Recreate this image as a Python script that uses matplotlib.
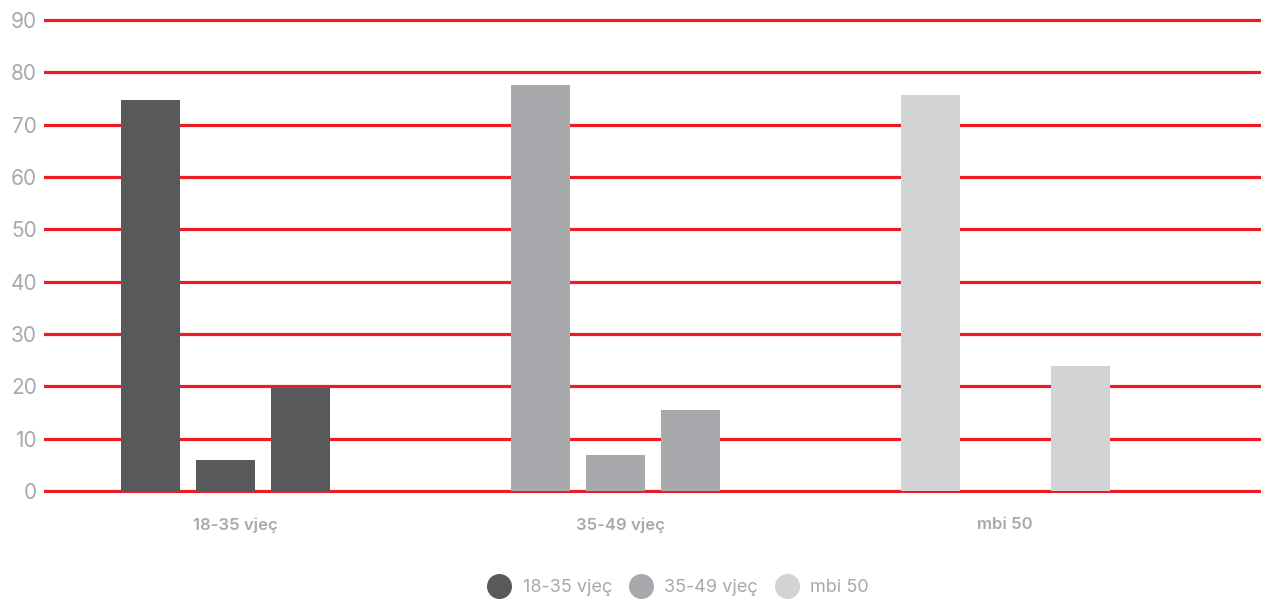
import numpy as np
import matplotlib.pyplot as plt
from matplotlib.lines import Line2D

# -------------------------------
# Data
# -------------------------------
groups = ["18-35 vjeç", "35-49 vjeç", "mbi 50"]
values_1835 = [74.7, 5.9, 19.9]
values_3549 = [77.6, 6.9, 15.5]
values_mbi50 = [75.7, 0, 23.9]
yticks = [0, 10, 20, 30, 40, 50, 60, 70, 80, 90]

colors = ["#58595B", "#A7A9AC", "#D1D3D4"]
red = "#ED1C24"
gray_text = "#A7A9AC"
font = ["Inter", "DejaVu Sans"]

# -------------------------------
# Plot
# -------------------------------
fig = plt.figure(figsize=(12.61, 5.99), dpi=100)
ax = fig.add_axes([44 / 1261, 108 / 599 - 0.004, 1 - 44 / 1261, 471 / 599 + 0.008])

width = 59 / 390
step = 75 / 390
x = np.arange(len(groups))
all_vals = [values_1835, values_3549, values_mbi50]

for g, vals in enumerate(all_vals):
    for j, v in enumerate(vals):
        if v > 0:
            ax.bar(x[g] + (j - 1) * step, v, width=width,
                   color=colors[g], zorder=3, linewidth=0)

for t in yticks:
    ax.axhline(t, color=red, linewidth=2.3, zorder=2)

ax.set_xlim(-181 / 390, 2 + 256 / 390)
ax.set_ylim(-90 * 0.004 / (471 / 599), 90 + 90 * 0.004 / (471 / 599))
ax.set_yticks(yticks)
ax.set_yticklabels([str(t) for t in yticks], color=gray_text,
                   fontsize=15, family=font)
ax.set_xticks(x + np.array([0.026, 0.015, 0.0]))
ax.set_xticklabels(groups, color=gray_text, fontsize=12,
                   family=font, fontweight="semibold")
ax.tick_params(axis="y", length=0, pad=5)
ax.tick_params(axis="x", length=0, pad=17)
for s in ax.spines.values():
    s.set_visible(False)

handles = [Line2D([], [], marker="o", linestyle="", markersize=17,
                  markerfacecolor=c, markeredgecolor=c) for c in colors]
fig.legend(handles, groups, loc="center", bbox_to_anchor=(675 / 1261, 1 - 588 / 599),
           ncol=3, frameon=False, handletextpad=0.3, columnspacing=0.6,
           prop={"family": font, "size": 13}, labelcolor=gray_text)

plt.savefig("out.png", dpi=100)
